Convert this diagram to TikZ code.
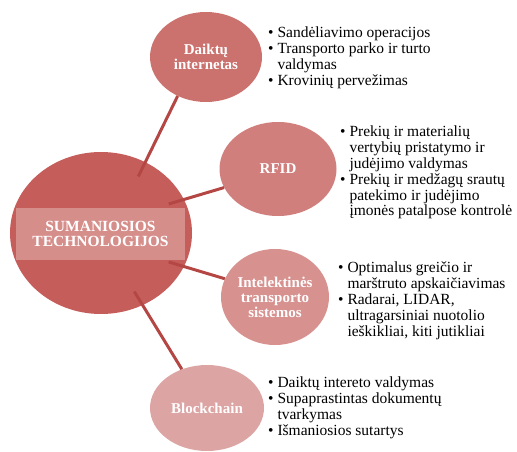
\documentclass[tikz,border=0pt]{standalone}
\usepackage{fontspec}
\setmainfont{Liberation Serif}
\usetikzlibrary{shapes.geometric,positioning}

\definecolor{hubred}{HTML}{C55E5A}
\definecolor{daired}{HTML}{CB716E}
\definecolor{rfidred}{HTML}{D17F7D}
\definecolor{itsred}{HTML}{D79290}
\definecolor{blockred}{HTML}{DCA5A4}
\definecolor{linkred}{HTML}{B44744}

\tikzset{
	bubble/.style={ellipse, fill=#1, inner sep=0pt, text=white, align=center,
		font=\fontsize{15}{15}\selectfont\bfseries},
	spoke/.style={draw=linkred, line width=3pt, shorten <=-16pt},
	notes/.style={anchor=north west, inner sep=0pt, align=left,
		font=\fontsize{15.5}{15.8}\selectfont},
}
\newcommand{\itm}{\textbullet\ }
\newcommand{\cnt}{\phantom{\textbullet\ }}

\begin{document}
\begin{tikzpicture}[x=1pt,y=-1pt]
	\useasboundingbox (0,0) rectangle (517,452);

	% Drawing the central hub
	\node [bubble=hubred, minimum width=182pt, minimum height=162pt] (hub) at (101,233) {};
	\node [fill=white, fill opacity=0.3, text opacity=1, text=white, inner sep=0pt,
		minimum width=169pt, minimum height=52pt, align=center,
		font=\fontsize{15.5}{15}\selectfont\bfseries] (hubtxt) at (100.5,234)
		{SUMANIOSIOS\\TECHNOLOGIJOS};

	% Drawing the four branches
	\node [bubble=daired, minimum width=112pt, minimum height=90pt] (iot) at (206,57) {Daiktų\\internetas};
	\node [bubble=rfidred, minimum width=117pt, minimum height=94pt] (rfid) at (278,169) {RFID};
	\node [bubble=itsred, minimum width=108pt, minimum height=96pt] (its) at (275,297) {Intelektinės\\transporto\\sistemos};
	\node [bubble=blockred, minimum width=114pt, minimum height=86pt] (chain) at (207,408) {Blockchain};

	% Drawing spokes
	\draw [spoke] (hub.58) -- (iot.234);
	\draw [spoke] (hub.22) -- (rfid.199);
	\draw [spoke] (hub.-22) -- (its.160);
	\draw [spoke] (hub.-60) -- (chain.123);

	% Marking the lists
	\node [notes] (iotlist) at (268,27) {\itm Sandėliavimo operacijos\\
		\itm Transporto parko ir turto\\ \cnt valdymas\\
		\itm Krovinių pervežimas};
	\node [notes] (rfidlist) at (340,126) {\itm Prekių ir materialių\\
		\cnt vertybių pristatymo ir\\ \cnt judėjimo valdymas\\
		\itm Prekių ir medžagų srautų\\ \cnt patekimo ir judėjimo\\
		\cnt įmonės patalpose kontrolė};
	\node [notes] (itslist) at (338,262) {\itm Optimalus greičio ir\\
		\cnt marštruto apskaičiavimas\\
		\itm Radarai, LIDAR,\\ \cnt ultragarsiniai nuotolio\\
		\cnt ieškikliai, kiti jutikliai};
	\node [notes] (chainlist) at (268,377) {\itm Daiktų intereto valdymas\\
		\itm Supaprastintas dokumentų\\ \cnt tvarkymas\\
		\itm Išmaniosios sutartys};
\end{tikzpicture}
\end{document}
